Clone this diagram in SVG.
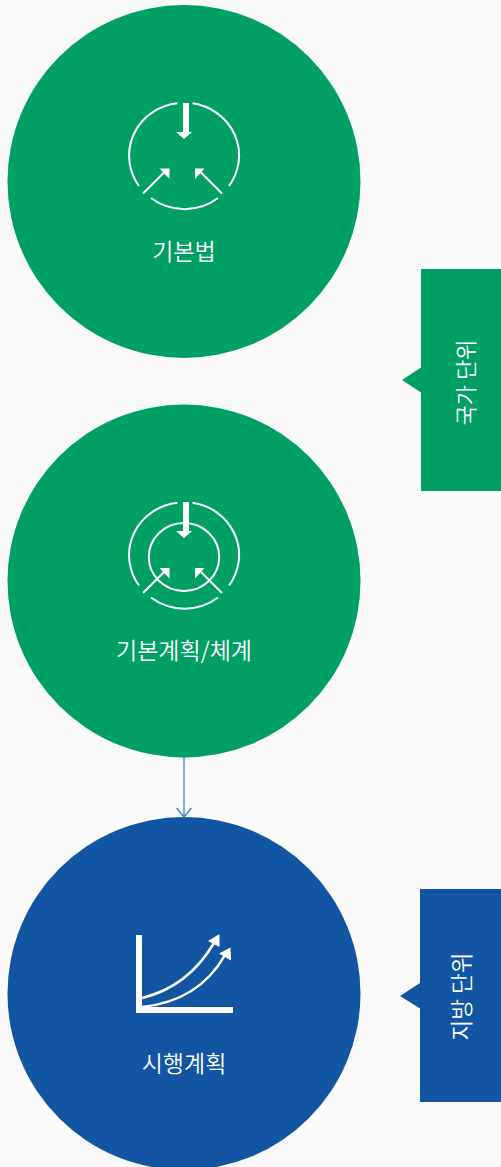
<svg xmlns="http://www.w3.org/2000/svg" width="501" height="1167" viewBox="0 0 501 1167">
<style>
.g{fill:#00a064}.b{fill:#1155a3}
.l{fill:none;stroke:#fff;stroke-width:2}
.c{fill:none;stroke:#fff;stroke-width:2.500}
.f{fill:#fff}
text{font-family:"Noto Sans CJK KR","Noto Sans",sans-serif;fill:#fff;font-weight:350;text-anchor:middle;font-size:23px}
</style>
<rect width="501" height="1167" fill="#fafafa"/>
<g id="node-basic-law">
<circle class="g" cx="184" cy="181.500" r="176.500"/>
<path class="l" d="M177.500 103.300A54.500 52.700 0 0 0 139 186M192.500 103.300A54.500 52.700 0 0 1 229 186M151 198A54.500 52.700 0 0 0 218 198"/>
<rect class="f" x="183" y="103" width="6" height="30"/><path class="f" d="M176 132H192L184 139Z"/>
<path class="l" d="M143 193.500L164 172.500M222 193.500L201 172.500"/>
<path class="f" d="M159.500 168.500L169.500 168.500V179ZM204.500 168.500L195 168.500V179Z"/>
<text x="184" y="260">기본법</text>
</g>
<g id="node-basic-plan">
<circle class="g" cx="184" cy="581" r="176.500"/>
<path class="l" d="M177.500 502.800A54.500 52.700 0 0 0 139 585.500M192.500 502.800A54.500 52.700 0 0 1 229 585.500M151 597.500A54.500 52.700 0 0 0 218 597.500"/>
<ellipse class="l" cx="184" cy="557" rx="35.200" ry="34"/>
<rect class="f" x="183" y="502" width="6" height="30"/><path class="f" d="M176 531H192L184 538Z"/>
<path class="l" d="M143 593L164 572M222 593L201 572"/>
<path class="f" d="M159.500 568L169.500 568V578.500ZM204.500 568L195 568V578.500Z"/>
<text x="184" y="659">기본계획/체계</text>
</g>
<g id="node-implementation">
<circle class="b" cx="184" cy="993.500" r="176.500"/>
<path class="f" d="M136 935H142V1007H233V1013H136Z"/>
<path class="c" d="M142 998C175 990 198 970 214 943M142 1007C180 1003 208 985 225 955"/>
<path class="f" d="M219.500 934L219.500 947L208 941ZM230.500 947.500L231 960.500L219 953.500Z"/>
<text x="184" y="1072">시행계획</text>
</g>
<g id="connectors">
<path d="M184 755V817M176.500 808L184 817L191.500 808" fill="none" stroke="#3f78bd" stroke-width="1.200"/>
</g>
<g id="node-national">
<path class="g" d="M421 269H501V491H421V392.500L402 380L421 367.500Z"/>
<text style="font-size:22px" transform="translate(474 382.500) rotate(-90)">국가 단위</text>
</g>
<g id="node-local">
<path class="b" d="M420 889H501V1102H420V1008.500L400 996L420 983Z"/>
<text style="font-size:22.500px" transform="translate(470 996.500) rotate(-90)">지방 단위</text>
</g>
</svg>
